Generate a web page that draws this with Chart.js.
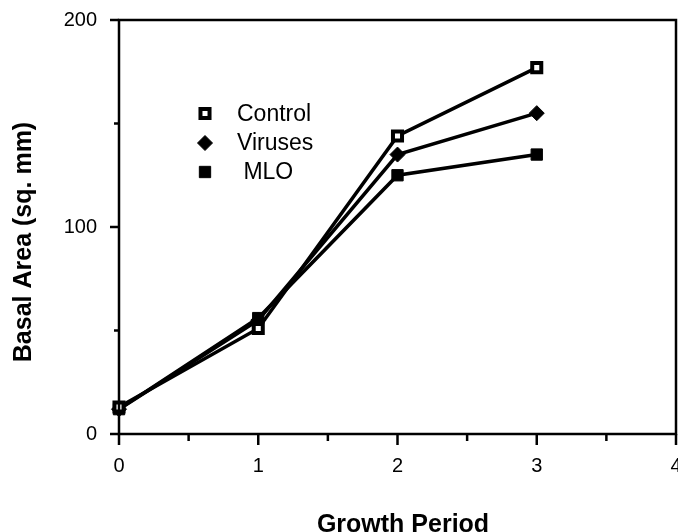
<!DOCTYPE html>
<html>
<head>
<meta charset="utf-8">
<script src="https://cdn.jsdelivr.net/npm/chart.js@4/dist/chart.umd.min.js"></script>
<style>
  html, body { margin: 0; padding: 0; background: #fff; }
  #wrap { width: 678px; height: 532px; }
</style>
</head>
<body>
<div id="wrap"><canvas id="growth"></canvas></div>
<script>
// ─── DONNÉES ──────────────────────────────────────────────────────────
const periods = [0, 1, 2, 3];
const controlArea = [13, 51, 144, 177];
const virusArea   = [12, 55, 135, 155];
const mloArea     = [12, 56, 125, 135];
const xTicks = [0, 1, 2, 3, 4];
const yTicks = [0, 100, 200];

const seriesNames = ['Control', 'Viruses', ' MLO'];
const xTitle = 'Growth Period';
const yTitle = 'Basal Area (sq. mm)';

const toPoints = vals => vals.map((v, i) => ({ x: periods[i], y: v }));

const FONT = "'Liberation Sans', Arial, Helvetica, sans-serif";

// ─── TICKS + CADRE + TITRES + LÉGENDE ─────────────────────────────────
const frame = {
    id: 'frame',
    afterDraw(chart) {
        const { ctx, chartArea: a, scales: { x, y } } = chart;
        ctx.save();
        ctx.strokeStyle = '#000';
        ctx.lineWidth = 2.5;
        ctx.strokeRect(a.left, a.top, a.right - a.left, a.bottom - a.top);

        // x ticks vers le bas
        for (let v = 0; v <= 4; v += 0.5) {
            const px = x.getPixelForValue(v);
            const len = Number.isInteger(v) ? 11 : 7;
            ctx.beginPath();
            ctx.moveTo(px, a.bottom);
            ctx.lineTo(px, a.bottom + len);
            ctx.stroke();
        }
        // y ticks vers la gauche
        for (let v = 0; v <= 200; v += 50) {
            const py = y.getPixelForValue(v);
            const len = v % 100 === 0 ? 9 : 5;
            ctx.beginPath();
            ctx.moveTo(a.left, py);
            ctx.lineTo(a.left - len, py);
            ctx.stroke();
        }

        // titres des axes
        ctx.fillStyle = '#000';
        ctx.font = 'bold 25px ' + FONT;
        ctx.textAlign = 'center';
        ctx.textBaseline = 'middle';
        ctx.fillText(xTitle, 403, 525);
        ctx.save();
        ctx.translate(24, 242);
        ctx.rotate(-Math.PI / 2);
        ctx.fillText(yTitle, 0, 0);
        ctx.restore();

        // légende
        const rows = [113.5, 143, 172];
        chart.data.datasets.forEach((ds, i) => {
            const my = rows[i];
            ctx.fillStyle = ds.pointBackgroundColor;
            ctx.strokeStyle = '#000';
            ctx.lineWidth = ds.pointBorderWidth;
            Chart.helpers.drawPoint(ctx, {
                pointStyle: ds.pointStyle,
                radius: ds.pointRadius,
                borderWidth: ds.pointBorderWidth,
                rotation: 0
            }, 205, my);
            ctx.fillStyle = '#000';
            ctx.font = '23px ' + FONT;
            ctx.textBaseline = 'middle';
            ctx.textAlign = 'left';
            ctx.fillText(seriesNames[i], 237, my + 1);
        });
        ctx.restore();
    }
};

function mkSet(label, vals, style, radius, fill, bw) {
    return {
        label,
        data: toPoints(vals),
        borderColor: '#000',
        borderWidth: 3.5,
        pointStyle: style,
        pointRadius: radius,
        pointBackgroundColor: fill,
        pointBorderColor: '#000',
        pointBorderWidth: bw,
        tension: 0,
        clip: false
    };
}

new Chart(document.getElementById('growth'), {
    type: 'line',
    data: {
        datasets: [
            mkSet('Control', controlArea, 'rect', 6.4, '#fff', 4),
            mkSet('Viruses', virusArea, 'rectRot', 7.5, '#000', 1),
            mkSet('MLO', mloArea, 'rect', 8, '#000', 1)
        ]
    },
    plugins: [frame],
    options: {
        responsive: true,
        maintainAspectRatio: false,
        animation: false,
        layout: { autoPadding: false, padding: { top: 20, right: 2, left: 0, bottom: 0 } },
        plugins: { legend: { display: false }, tooltip: { enabled: false } },
        scales: {
            x: {
                type: 'linear',
                min: 0, max: 4,
                grid: { display: false },
                border: { display: false },
                afterBuildTicks: s => { s.ticks = xTicks.map(v => ({ value: v })); },
                ticks: { color: '#000', font: { size: 20, family: FONT }, padding: 12, maxRotation: 0 },
                afterFit: s => { s.height = 98; s.paddingLeft = 0; s.paddingRight = 0; }
            },
            y: {
                min: 0, max: 200,
                grid: { display: false },
                border: { display: false },
                afterBuildTicks: s => { s.ticks = yTicks.map(v => ({ value: v })); },
                ticks: { color: '#000', font: { size: 20, family: FONT }, padding: 14 },
                afterFit: s => { s.width = 119; s.paddingTop = 0; s.paddingBottom = 0; }
            }
        }
    }
});
</script>
</body>
</html>
